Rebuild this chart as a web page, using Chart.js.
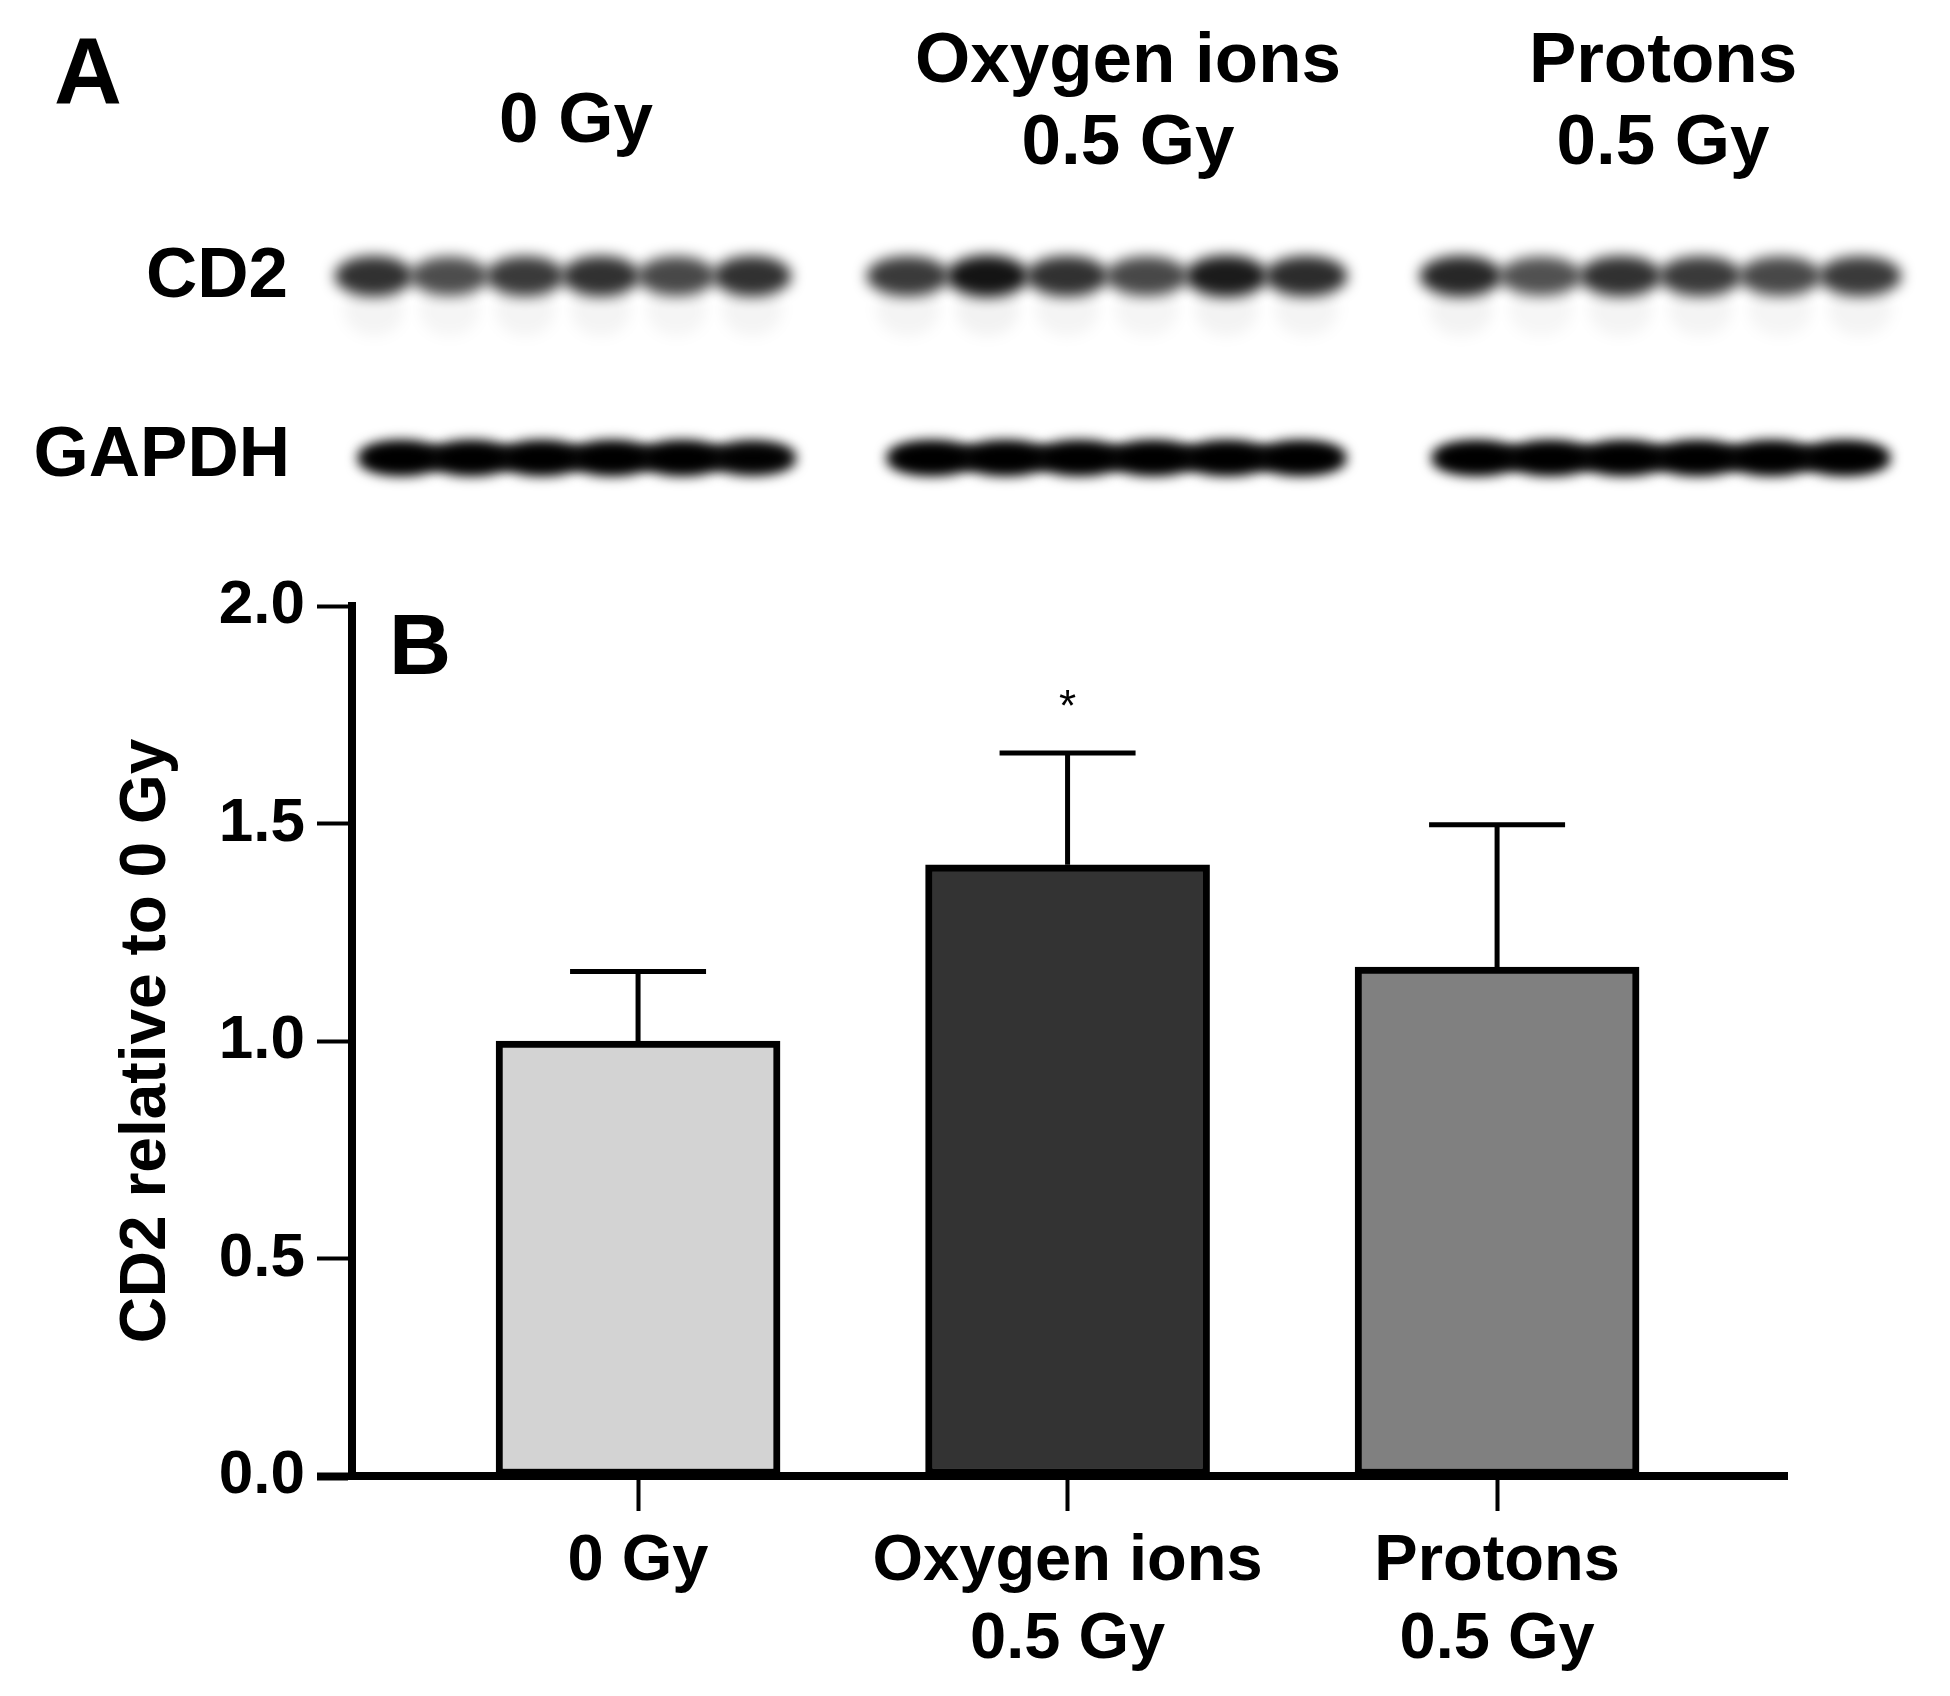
<!DOCTYPE html>
<html>
<head>
<meta charset="utf-8">
<script src="https://cdn.jsdelivr.net/npm/chart.js@4/dist/chart.umd.min.js"></script>
<style>
  html, body { margin: 0; padding: 0; background: #fff; }
  #fig { display: block; }
</style>
</head>
<body>
<canvas id="fig" width="1950" height="1696"></canvas>
<script>
// chart data
var categories = [['0 Gy'], ['Oxygen ions', '0.5 Gy'], ['Protons', '0.5 Gy']];
var means = [1.0, 1.405, 1.17];
var errors = [0.16, 0.257, 0.327];
var stars = ['', '*', ''];
var yTicks = [0, 0.5, 1.0, 1.5, 2.0];
var barColors = ['#d3d3d3', '#333333', '#808080'];

// blot band darkness per lane (0..1), one list per group
var cd2Bands = [
    [0.88, 0.76, 0.84, 0.88, 0.78, 0.88],
    [0.84, 1.0, 0.88, 0.78, 0.97, 0.9],
    [0.92, 0.74, 0.88, 0.84, 0.78, 0.84]
];
var gapdhBands = [
    [1, 1, 1, 1, 1, 0.95],
    [1, 1, 1, 1, 1, 1],
    [1, 1, 1, 1, 1, 1]
];

var FONT = '"Liberation Sans", Arial, sans-serif';

var blotPlugin = {
    id: 'blot',
    afterDraw: function (chart) {
        var ctx = chart.ctx;
        ctx.save();
        ctx.fillStyle = '#000';
        ctx.textAlign = 'center';
        ctx.textBaseline = 'middle';

        ctx.font = 'bold 94px ' + FONT;
        ctx.fillText('A', 88, 78);
        ctx.font = 'bold 86px ' + FONT;
        ctx.fillText('B', 420, 650);

        // group headers
        ctx.font = 'bold 71px ' + FONT;
        ctx.fillText(categories[0][0], 576, 122);
        ctx.fillText(categories[1][0], 1128, 62);
        ctx.fillText(categories[1][1], 1128, 144);
        ctx.fillText(categories[2][0], 1663, 62);
        ctx.fillText(categories[2][1], 1663, 144);

        ctx.textAlign = 'right';
        ctx.fillText('CD2', 288, 277);
        ctx.fillText('GAPDH', 290, 456);

        // bands
        function rows(bands, groupX, cy, ry, spread, alpha, tail) {
            bands.forEach(function (lanes, g) {
                var x0 = groupX[g][0], x1 = groupX[g][1];
                var w = (x1 - x0) / lanes.length;
                lanes.forEach(function (d, i) {
                    var cx = x0 + w * (i + 0.5);
                    ctx.filter = 'blur(7px)';
                    if (tail) {
                        ctx.fillStyle = 'rgba(0,0,0,' + (0.05 * d) + ')';
                        ctx.beginPath();
                        ctx.ellipse(cx, cy + 34, w * 0.4, 26, 0, 0, Math.PI * 2);
                        ctx.fill();
                    }
                    ctx.fillStyle = 'rgba(0,0,0,' + (alpha * d) + ')';
                    ctx.beginPath();
                    ctx.ellipse(cx, cy, w * spread, ry * (0.8 + 0.3 * d), 0, 0, Math.PI * 2);
                    ctx.fill();
                });
            });
        }
        rows(cd2Bands, [[336, 790], [868, 1346], [1421, 1900]], 276, 19, 0.52, 0.92, true);
        var gx = [[366, 788], [895, 1338], [1440, 1882]];
        rows(gapdhBands, gx, 458, 15, 0.6, 1, false);
        rows(gapdhBands, gx, 458, 11, 0.58, 1, false);
        ctx.restore();
    }
};

var errorPlugin = {
    id: 'errorBars',
    afterDatasetsDraw: function (chart) {
        var ctx = chart.ctx;
        var xs = chart.scales.x, ys = chart.scales.y;
        ctx.save();
        ctx.strokeStyle = '#000';
        ctx.lineWidth = 5;
        means.forEach(function (m, i) {
            var x = xs.getPixelForValue(i);
            var yb = ys.getPixelForValue(m);
            var yt = ys.getPixelForValue(m + errors[i]);
            ctx.beginPath();
            ctx.moveTo(x, yb);
            ctx.lineTo(x, yt);
            ctx.moveTo(x - 68, yt);
            ctx.lineTo(x + 68, yt);
            ctx.stroke();
            if (stars[i]) {
                ctx.fillStyle = '#000';
                ctx.font = '44px ' + FONT;
                ctx.textAlign = 'center';
                ctx.textBaseline = 'middle';
                ctx.fillText(stars[i], x, yt - 44);
            }
        });
        ctx.restore();
    }
};

var ctx = document.getElementById('fig');
var chart = new Chart(ctx, {
    type: 'bar',
    data: {
        datasets: [{
            data: means.map(function (m, i) { return { x: i, y: m }; }),
            backgroundColor: barColors,
            borderColor: '#000',
            borderWidth: 7,
            borderSkipped: false,
            barThickness: 284
        }]
    },
    options: {
        responsive: false,
        animation: false,
        devicePixelRatio: 1,
        layout: { padding: { top: 606, left: 100, right: 163, bottom: 20 } },
        plugins: {
            legend: { display: false },
            tooltip: { enabled: false }
        },
        scales: {
            x: {
                type: 'linear',
                offset: false,
                min: -0.666,
                max: 2.675,
                afterBuildTicks: function (s) {
                    s.ticks = [0, 1, 2].map(function (v) { return { value: v }; });
                },
                afterFit: function (s) { s.height = 200; },
                grid: { offset: false, drawOnChartArea: false, tickLength: 35, tickWidth: 4, tickColor: '#000' },
                border: { color: '#000', width: 8 },
                ticks: {
                    autoSkip: false,
                    maxRotation: 0,
                    padding: 12,
                    color: '#000',
                    font: { family: FONT, size: 65, weight: 'bold', lineHeight: 1.2 },
                    callback: function (v) { return categories[v]; }
                }
            },
            y: {
                min: 0,
                max: 2,
                afterBuildTicks: function (s) {
                    s.ticks = yTicks.map(function (v) { return { value: v }; });
                },
                afterFit: function (s) { s.width = 252; },
                grid: {
                    drawOnChartArea: false,
                    tickLength: 35,
                    tickColor: '#000',
                    tickWidth: function (c) { return c.tick && c.tick.value === 0 ? 8 : 4; }
                },
                border: { color: '#000', width: 8 },
                ticks: {
                    padding: 12,
                    color: '#000',
                    font: { family: FONT, size: 62, weight: 'bold' },
                    callback: function (v) { return v.toFixed(1); }
                },
                title: {
                    display: true,
                    text: 'CD2 relative to 0 Gy',
                    color: '#000',
                    font: { family: FONT, size: 64, weight: 'bold' },
                    padding: { top: 9, bottom: 0 }
                }
            }
        }
    },
    plugins: [errorPlugin, blotPlugin]
});
</script>
</body>
</html>
